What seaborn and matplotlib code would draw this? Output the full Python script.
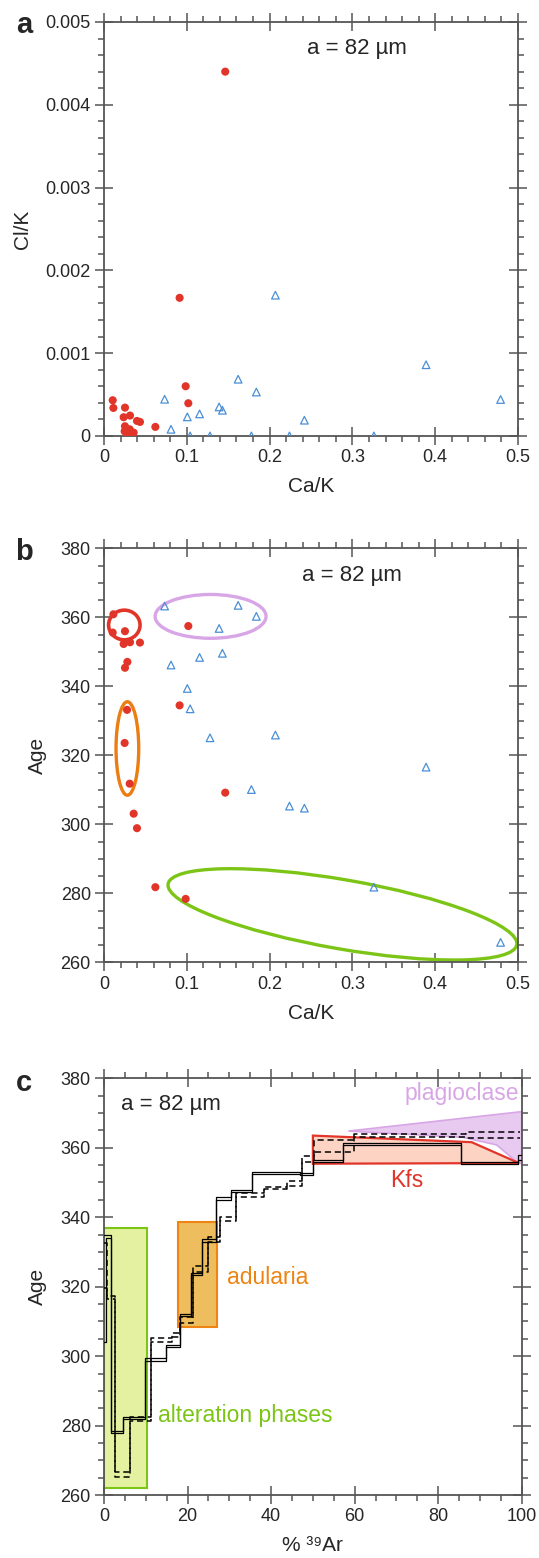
import numpy as np
import pandas as pd
import matplotlib
matplotlib.use("Agg")
import matplotlib.pyplot as plt
import seaborn as sns
from matplotlib.patches import Ellipse, Rectangle, Polygon
from matplotlib.ticker import MultipleLocator, FuncFormatter

# --- datos paneles a y b (círculos rojos) ---
rojo_ca_k = [0.0113, 0.0105, 0.0253, 0.0237, 0.0314, 0.0434, 0.0282, 0.0253, 0.1018,
             0.0278, 0.0249, 0.0310, 0.0913, 0.1464, 0.0358, 0.0398, 0.0620, 0.0986]
rojo_cl_k = [0.000338, 0.000431, 0.000342, 0.000226, 0.000246, 0.000169, 0.000030, 0.000117, 0.000395,
             0.000020, 0.000056, 0.000080, 0.001668, 0.004400, 0.000040, 0.000181, 0.000109, 0.000600]
rojo_edad = [360.9, 355.6, 356.0, 352.3, 352.8, 352.7, 347.1, 345.4, 357.5,
             333.2, 323.6, 311.8, 334.5, 309.2, 303.1, 298.9, 281.8, 278.4]

# --- datos paneles a y b (triángulos azules) ---
azul_ca_k = [0.0732, 0.1620, 0.1840, 0.1390, 0.1430, 0.1154, 0.0809, 0.1006, 0.1040,
             0.1280, 0.2070, 0.3890, 0.1780, 0.2240, 0.2420, 0.3260, 0.4790]
azul_cl_k = [0.000443, 0.000685, 0.000530, 0.000350, 0.000310, 0.000266, 0.000080, 0.000230, 0.000000,
             0.000000, 0.001700, 0.000860, 0.000000, 0.000000, 0.000190, 0.000000, 0.000440]
azul_edad = [363.3, 363.5, 360.3, 356.8, 349.6, 348.4, 346.2, 339.4, 333.5,
             325.1, 325.9, 316.6, 310.1, 305.3, 304.7, 281.8, 265.8]

# --- espectro de edades (panel c) ---
solido_bordes = [0, 0.4, 1.6, 4.6, 9.9, 14.9, 18.1, 20.8, 23.4, 26.9, 30.5, 35.5, 46.9, 50.0, 57.3, 85.4, 99.2, 100]
solido_edad = [319.5, 334.4, 278.2, 282.1, 299.0, 302.9, 311.9, 323.7, 333.3, 345.4, 347.5, 352.8, 352.4, 356.1, 361.0, 355.5, 357.3]
solido_err = [15.5, 0.4, 0.3, 0.3, 0.4, 0.35, 0.3, 0.35, 0.35, 0.3, 0.3, 0.35, 0.3, 0.3, 0.35, 0.3, 0.7]

discont_bordes = [0, 0.6, 2.6, 6.1, 11.3, 16.2, 18.2, 21.4, 25.0, 27.8, 31.6, 38.3, 43.7, 47.4, 50.3, 59.9, 86.7, 99.6]
discont_edad = [326.0, 317.0, 266.0, 281.9, 304.6, 306.1, 310.4, 325.1, 333.6, 339.5, 346.3, 348.4, 349.8, 356.8, 360.5, 363.55, 363.6]
discont_err = [6.5, 0.45, 0.7, 0.5, 0.5, 0.5, 1.0, 0.85, 0.75, 0.5, 0.6, 0.4, 0.75, 0.8, 1.7, 0.35, 0.85]

ROJO = '#e2352a'
AZUL = '#4a8fd6'


def estilo_ejes(ax, xmaj, xmin, ymaj, ymin):
    """Ticks en los cuatro lados, mayores cruzando el eje."""
    ax.xaxis.set_major_locator(MultipleLocator(xmaj))
    ax.xaxis.set_minor_locator(MultipleLocator(xmin))
    ax.yaxis.set_major_locator(MultipleLocator(ymaj))
    ax.yaxis.set_minor_locator(MultipleLocator(ymin))
    ax.tick_params(which='major', direction='inout', length=13, width=1.1, color='#555555',
                   top=True, right=True, labelsize=13, pad=3)
    ax.tick_params(which='minor', direction='out', length=4, width=1.1, color='#555555',
                   top=True, right=True)
    for s in ax.spines.values():
        s.set_color('#555555')
        s.set_linewidth(1.3)


def fmt_num(dec):
    return FuncFormatter(lambda v, p: '0' if abs(v) < 1e-12 else f'{v:.{dec}f}')


def dispersion(ax, yr, ya):
    sns.scatterplot(x=rojo_ca_k, y=yr, ax=ax, color=ROJO, s=34, edgecolor='none', zorder=3)
    sns.scatterplot(x=azul_ca_k, y=ya, ax=ax, marker='^', s=30, facecolor='none',
                    edgecolor=AZUL, linewidth=0.9, zorder=3)


def escalones(ax, bordes, edad, err, **kw):
    bordes = np.array(bordes)
    edad = np.array(edad)
    err = np.array(err)
    for v in (edad + err, edad - err):
        sns.lineplot(x=bordes, y=np.append(v, v[-1]), ax=ax, drawstyle='steps-post',
                     estimator=None, sort=False, color='black', zorder=4, **kw)


sns.set_style('ticks')
plt.rcParams['font.family'] = ['Liberation Sans', 'DejaVu Sans']

fig = plt.figure(figsize=(5.39, 15.58), dpi=100)
ax_a = fig.add_axes([0.193, 0.7202, 0.768, 0.2657])
ax_b = fig.add_axes([0.193, 0.3823, 0.768, 0.2657])
ax_c = fig.add_axes([0.193, 0.0404, 0.775, 0.2675])

# panel a
dispersion(ax_a, rojo_cl_k, azul_cl_k)
ax_a.set_xlim(0, 0.5)
ax_a.set_ylim(0, 0.005)
estilo_ejes(ax_a, 0.1, 0.02, 0.001, 0.0002)
ax_a.xaxis.set_major_formatter(fmt_num(1))
ax_a.yaxis.set_major_formatter(fmt_num(3))
ax_a.set_xlabel('Ca/K', fontsize=15, labelpad=8)
ax_a.set_ylabel('Cl/K', fontsize=15, labelpad=10)
ax_a.text(0.61, 0.937, 'a = 82 µm', transform=ax_a.transAxes, fontsize=16, ha='center', va='center')

# panel b
dispersion(ax_b, rojo_edad, azul_edad)
ax_b.set_xlim(0, 0.5)
ax_b.set_ylim(260, 380)
estilo_ejes(ax_b, 0.1, 0.02, 20, 5)
ax_b.xaxis.set_major_formatter(fmt_num(1))
ax_b.set_xlabel('Ca/K', fontsize=15, labelpad=8)
ax_b.set_ylabel('Age', fontsize=15, labelpad=10)
ax_b.text(0.60, 0.935, 'a = 82 µm', transform=ax_b.transAxes, fontsize=16, ha='center', va='center')
ax_b.add_patch(Ellipse((0.0245, 357.8), 0.038, 8.6, fill=False, ec=ROJO, lw=2.6, zorder=2))
ax_b.add_patch(Ellipse((0.1287, 360.3), 0.134, 12.7, fill=False, ec='#d8a6e6', lw=2.4, zorder=2))
ax_b.add_patch(Ellipse((0.0282, 322.0), 0.0274, 27.1, fill=False, ec='#ec7d12', lw=2.4, zorder=2))
ax_b.add_patch(Ellipse((0.576, 0.116), 0.855, 0.167, angle=-9.9, fill=False, ec='#7cc516', lw=2.4,
                       transform=ax_b.transAxes, clip_on=False, zorder=2))

# panel c
ax_c.add_patch(Rectangle((0, 262), 10.2, 75, fc='#e4f1a0', ec='#7cc516', lw=1.5, zorder=1))
ax_c.add_patch(Rectangle((17.6, 308.5), 9.5, 30, fc='#eebd5e', ec='#ee8414', lw=1.5, zorder=1))
ax_c.add_patch(Polygon([(58.5, 364.8), (100, 370.4), (100, 355.4), (99, 355.7), (94, 360.8), (86, 363.0)],
                       closed=True, fc='#e8c9f0', ec='#d8a6e6', lw=1.2, zorder=1))
ax_c.add_patch(Polygon([(50, 363.5), (88, 361.6), (99.3, 355.6), (50, 355.4)],
                       closed=True, fc='#fdd3c3', ec=ROJO, lw=1.6, zorder=2))
escalones(ax_c, solido_bordes, solido_edad, solido_err, linewidth=0.9)
escalones(ax_c, discont_bordes, discont_edad, discont_err, linewidth=1.1, linestyle=(0, (4, 2.5)))
ax_c.set_xlim(0, 100)
ax_c.set_ylim(260, 380)
estilo_ejes(ax_c, 20, 5, 20, 5)
ax_c.set_xlabel('% ³⁹Ar', fontsize=15, labelpad=8)
ax_c.set_ylabel('Age', fontsize=15, labelpad=10)
ax_c.text(0.04, 0.936, 'a = 82 µm', transform=ax_c.transAxes, fontsize=16, ha='left', va='center')
ax_c.text(99.3, 375.5, 'plagioclase', color='#d8a6e6', fontsize=16.5, ha='right', va='center')
ax_c.text(72.5, 350.5, 'Kfs', color=ROJO, fontsize=16.5, ha='center', va='center')
ax_c.text(29.5, 322.5, 'adularia', color='#ee8414', fontsize=16.5, ha='left', va='center')
ax_c.text(13, 283, 'alteration phases', color='#7cc516', fontsize=16.5, ha='left', va='center')

# letras de panel
for letra, yy in (('a', 25), ('b', 552), ('c', 1083)):
    fig.text(24 / 539, 1 - yy / 1558, letra, fontsize=21, fontweight='bold', ha='center', va='center')

fig.savefig('out.png', dpi=100)
